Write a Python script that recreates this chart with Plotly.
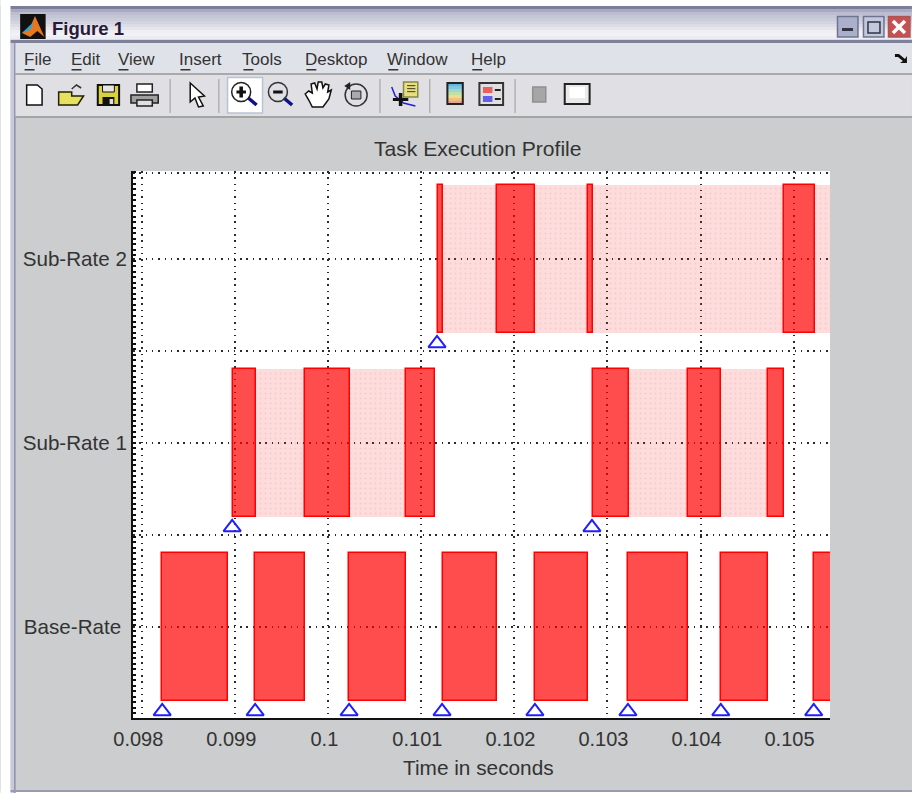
import plotly.graph_objects as go

# ---------- data (seconds) ----------
rows = ["Base-Rate", "Sub-Rate 1", "Sub-Rate 2"]
base_run_start = [0.098214, 0.099213, 0.100223, 0.101232, 0.102220, 0.103220, 0.104218, 0.105217]
base_run_end   = [0.098923, 0.099750, 0.100835, 0.101812, 0.102790, 0.103864, 0.104723, 0.105700]
sub1_run_start = [0.098977, 0.099750, 0.100835, 0.102844, 0.103864, 0.104723]
sub1_run_end   = [0.099224, 0.100233, 0.101146, 0.103230, 0.104218, 0.104895]
sub2_run_start = [0.101179, 0.101812, 0.102790, 0.104895]
sub2_run_end   = [0.101232, 0.102220, 0.102844, 0.105228]
sub1_idle_start = [0.099224, 0.100233, 0.103230, 0.104218]
sub1_idle_end   = [0.099750, 0.100835, 0.103864, 0.104723]
sub2_idle_start = [0.101232, 0.102220, 0.102844, 0.105228]
sub2_idle_end   = [0.101812, 0.102790, 0.104895, 0.105700]
base_triggers = [0.098214, 0.099213, 0.100223, 0.101222, 0.102220, 0.103220, 0.104218, 0.105217]
sub1_triggers = [0.098966, 0.102833]
sub2_triggers = [0.101168]
x_ticks = [0.098, 0.099, 0.100, 0.101, 0.102, 0.103, 0.104, 0.105]
x_tick_labels = ["0.098", "0.099", "0.1", "0.101", "0.102", "0.103", "0.104", "0.105"]

W, H = 912, 793
L, R, T, B = 132.5, 830.0, 171.0, 718.0
FONT = "Liberation Sans"
GRID = "#2a2a2a"
DASH = "1.5px,4.8px"

fig = go.Figure()

def add_bars(starts, ends, level, fill, line, lw, pattern=None):
    marker = dict(color=fill, line=dict(color=line, width=lw))
    if pattern:
        marker["pattern"] = pattern
    fig.add_trace(go.Bar(
        orientation="h", base=starts, x=[e - s for s, e in zip(starts, ends)],
        y=[level] * len(starts), width=0.8, marker=marker,
        showlegend=False, hoverinfo="skip"))

LIGHT = "rgba(255,40,40,0.16)"
RUN = "rgba(255,0,0,0.70)"
STIPPLE = dict(shape=".", size=5, solidity=0.12, fgcolor="rgba(190,110,140,0.35)", fillmode="overlay")
add_bars(sub1_idle_start, sub1_idle_end, 2, LIGHT, "rgba(0,0,0,0)", 0, STIPPLE)
add_bars(sub2_idle_start, sub2_idle_end, 3, LIGHT, "rgba(0,0,0,0)", 0, STIPPLE)
add_bars(base_run_start, base_run_end, 1, RUN, "#ff0000", 1.5)
add_bars(sub1_run_start, sub1_run_end, 2, RUN, "#ff0000", 1.5)
add_bars(sub2_run_start, sub2_run_end, 3, RUN, "#ff0000", 1.5)

for trig, level in ((base_triggers, 1), (sub1_triggers, 2), (sub2_triggers, 3)):
    fig.add_trace(go.Scatter(
        x=trig, y=[level - 0.459] * len(trig), mode="markers", showlegend=False, hoverinfo="skip",
        marker=dict(symbol="triangle-up-open", size=15, color="#2020ff", line=dict(color="#2020ff", width=2))))

# ---------- window chrome helpers (pixel -> paper) ----------
SX = 1.0
px = lambda x: (x * SX - L) / (R - L)
py = lambda y: (B - y) / (B - T)
shapes, notes = [], []

def rect(x0, y0, x1, y1, fill, line=None, lw=1):
    shapes.append(dict(type="rect", xref="paper", yref="paper", layer="above",
                       x0=px(x0), x1=px(x1), y0=py(y0), y1=py(y1), fillcolor=fill,
                       line=dict(color=line or "rgba(0,0,0,0)", width=lw if line else 0)))

def poly(pts, fill="rgba(0,0,0,0)", line=None, lw=1, close=True):
    d = "M" + " L".join(f"{px(x):.5f},{py(y):.5f}" for x, y in pts) + (" Z" if close else "")
    shapes.append(dict(type="path", xref="paper", yref="paper", layer="above", path=d, fillcolor=fill,
                       line=dict(color=line or "rgba(0,0,0,0)", width=lw if line else 0)))

def circle(cx, cy, r, fill, line, lw=2):
    c = cx * SX
    shapes.append(dict(type="circle", xref="paper", yref="paper", layer="above",
                       x0=(c - r - L) / (R - L), x1=(c + r - L) / (R - L), y0=py(cy + r), y1=py(cy - r),
                       fillcolor=fill, line=dict(color=line, width=lw)))

def text(x, y, s, size, color="#222222", anchor="left"):
    notes.append(dict(xref="paper", yref="paper", x=px(x), y=py(y), text=s, showarrow=False,
                      xanchor=anchor, yanchor="middle", font=dict(family=FONT, size=size, color=color)))

# outside the window
rect(0, 0, W, 6, "#ffffff")
rect(0, 0, 10, H, "#ffffff")
rect(0, 791, W, H, "#ffffff")
# title bar gradient
title_cols = ["#7d7e9a", "#a9aac0", "#bcbdcf", "#c4c5d5", "#cbccda", "#d3d4e0", "#dcdce6", "#e5e5ec",
              "#eeeef3", "#f2f2f6", "#ecedf2", "#d9dae4"]
for i, c in enumerate(title_cols):
    rect(10, 6 + i * 3, W, 9 + i * 3, c)
rect(10, 40, W, 43, "#7f8099")
rect(10, 43, 15, H, "#c9cad9")
rect(13.5, 43, 15, H, "#8f90a8")
rect(15, 43, W, 73, "#e0e2ea")
rect(15, 73, W, 75, "#a9a9a9")
rect(15, 75, W, 116, "#dfdfe4")
rect(15, 116, W, 118, "#a4a4a4")
rect(10, 790, W, 792, "#9a9bb0")

# title text
text(49, 28.5, "<b>Figure 1</b>", 18.5, "#2a1a3a")

# menu
menu = [("File", 24), ("Edit", 71), ("View", 118), ("Insert", 180), ("Tools", 243),
        ("Desktop", 306), ("Window", 388), ("Help", 472)]
for name, x0 in menu:
    text(x0 - 3, 59, name, 17, "#333333")
    rect(x0, 69, x0 + 10, 70.5, "#333333")
poly([(895, 54), (899, 54), (905, 59), (907, 56), (907, 63), (900, 63), (903, 61), (898, 57), (895, 57)], "#111111")

# window buttons
rect(837.5, 16.5, 858, 37, "#aab0cc", "#6f7390", 1.5)
rect(842, 28, 853, 31, "#333344")
rect(863.5, 16.5, 884, 37, "#c3c8dc", "#6f7390", 1.5)
rect(868, 22, 880, 33, "rgba(0,0,0,0)", "#333344", 1.5)
rect(888.5, 16.5, 910, 37, "#c85050", "#a55", 1.5)
poly([(893, 21), (905, 33)], line="#ffffff", lw=3.5, close=False)
poly([(905, 21), (893, 33)], line="#ffffff", lw=3.5, close=False)

# icon block: horizontally scaled
SX = 1.186
# logo
rect(16.5, 14, 38, 39, "#111111")
poly([(18, 33), (25, 27), (29, 16), (37, 37), (31, 31), (25, 37)], "#e8761c")
poly([(18, 33), (25, 25), (28, 22), (25, 30)], "#3aa0c8")

# toolbar separators
for x in (143, 184, 320, 362, 434):
    rect(x - 0.5, 79, x + 0.7, 113, "#b0b0b0")

# new / open / save / print
poly([(22, 85), (31, 85), (35, 89), (35, 105), (22, 105)], "#ffffff", "#111111", 1.5)
poly([(49, 92), (60, 92), (60, 96), (70, 96), (65, 105), (49, 105)], "#e8e060", "#222200", 1.5)
poly([(60, 89), (64, 85), (68, 88)], line="#333333", lw=1.5, close=False)
rect(82, 85, 100, 105, "#d8d040", "#111111", 2)
rect(86, 85, 96, 92, "#e6e6e6", "#111111", 1)
rect(86, 97, 96, 105, "#111111")
rect(92, 99, 95, 104, "#dddddd")
rect(115, 84, 128, 92, "#ffffff", "#222222", 1.5)
poly([(110, 95), (133, 95), (133, 103), (110, 103)], "#a0a0a0", "#222222", 1.5)
rect(115, 100, 128, 106, "#e0e0e0", "#222222", 1.5)
# arrow
poly([(160, 83), (172, 96), (167, 97), (171, 106), (167, 107), (164, 98), (160, 102)], "#ffffff", "#111111", 1.5)
# zoom in (highlighted)
rect(191.5, 77.5, 221, 113, "#ffffff", "#b8c4d4", 1.5)
poly([(209, 98), (216, 105)], line="#10108a", lw=3.5, close=False)
circle(203, 92, 9.5, "rgba(255,255,255,0)", "#222222", 1.5)
rect(199, 90.5, 207, 93.5, "#111111")
rect(201.5, 86.5, 204.5, 97.5, "#111111")
# zoom out
poly([(239, 98), (246, 105)], line="#10108a", lw=3.5, close=False)
circle(234, 92, 9.5, "rgba(255,255,255,0)", "#333333", 1.5)
rect(230, 90.5, 238, 93.5, "#111111")
# hand
poly([(257, 94), (260, 91), (263, 93), (262, 84), (265, 83), (267, 89), (268, 82), (271, 82), (272, 88),
      (274, 84), (277, 85), (276, 92), (279, 90), (277, 99), (272, 107), (263, 107), (260, 100)],
     "#ffffff", "#111111", 1.5)
# rotate
circle(300, 95, 11, "rgba(255,255,255,0)", "#333333", 1.5)
rect(296, 91, 304, 99, "#aaaaaa", "#222222", 1)
poly([(290, 86), (295, 82), (295, 90)], "#222222")
# data cursor
rect(340, 82, 352, 97, "#e8e080", "#888840", 1.5)
for y in (85, 88, 91):
    rect(343, y, 350, y + 1.2, "#555533")
poly([(330, 87), (333, 96), (340, 103), (350, 106)], line="#2020e0", lw=1.5, close=False)
rect(331, 98, 344, 101, "#111111")
rect(336, 93, 339, 106, "#111111")
# colorbar
cb = ["#5fb8e8", "#80c8e0", "#a0d8c8", "#c0e0a8", "#e8e090", "#f0c080", "#e8a0a0"]
for i, c in enumerate(cb):
    rect(377, 83 + i * 3, 390, 86 + i * 3, c)
rect(377, 83, 390, 104, "rgba(0,0,0,0)", "#222222", 2)
# legend
rect(404, 83, 424, 105, "#e0e0e0", "#333333", 2)
rect(407, 87, 415, 93, "#e86060")
rect(407, 96, 415, 102, "#6060e8")
rect(417, 89, 422, 91, "#222222")
rect(417, 98, 422, 100, "#222222")
# box icons
rect(449, 87, 460, 102, "#a6a6a6", "#909090", 1.5)
rect(476, 84, 497, 104, "#eaeaea", "#222222", 2)
rect(480, 87, 493, 98, "#ffffff")
SX = 1.0

text((374 + 581) / 2, 149, "Task Execution Profile", 21.1, "#333333", "center")
text((402 + 554) / 2, 767, "Time in seconds", 20.8, "#333333", "center")

fig.update_layout(
    width=W, height=H, autosize=False,
    margin=dict(l=L, r=W - R, t=T, b=H - B, pad=0),
    paper_bgcolor="#cbcdce", plot_bgcolor="#ffffff",
    barmode="overlay", bargap=0, showlegend=False,
    font=dict(family=FONT, size=20, color="#333333"),
    shapes=shapes, annotations=notes,
)
fig.update_xaxes(
    range=[0.09790, 0.105392], tickmode="array", tickvals=x_ticks, ticktext=x_tick_labels,
    showgrid=True, gridcolor=GRID, griddash=DASH, gridwidth=1.5, zeroline=False,
    showline=True, linecolor="#111111", linewidth=2, ticks="", ticklabelshift=-4, ticklabelstandoff=2,
    tickfont=dict(family=FONT, size=20, color="#333333"), mirror=False)
fig.update_yaxes(
    range=[0.505, 3.478], tickmode="array",
    tickvals=[1, 1.5, 2, 2.5, 3, 3.467],
    ticktext=[rows[0] + "\u00a0", "", rows[1], "", rows[2], ""],
    showgrid=True, gridcolor=GRID, griddash=DASH, gridwidth=1.5, zeroline=False,
    showline=True, linecolor="#111111", linewidth=2, ticks="", ticklabelstandoff=0,
    tickfont=dict(family=FONT, size=20.6, color="#333333"),
    minor=dict(tick0=0.5, dtick=0.03, ticks="inside", ticklen=3, tickcolor="#111111", tickwidth=1.5, showgrid=False))

fig.write_html("out.html", config=dict(displayModeBar=False),
               post_script="document.body.style.margin='0';document.body.style.overflow='hidden';")
